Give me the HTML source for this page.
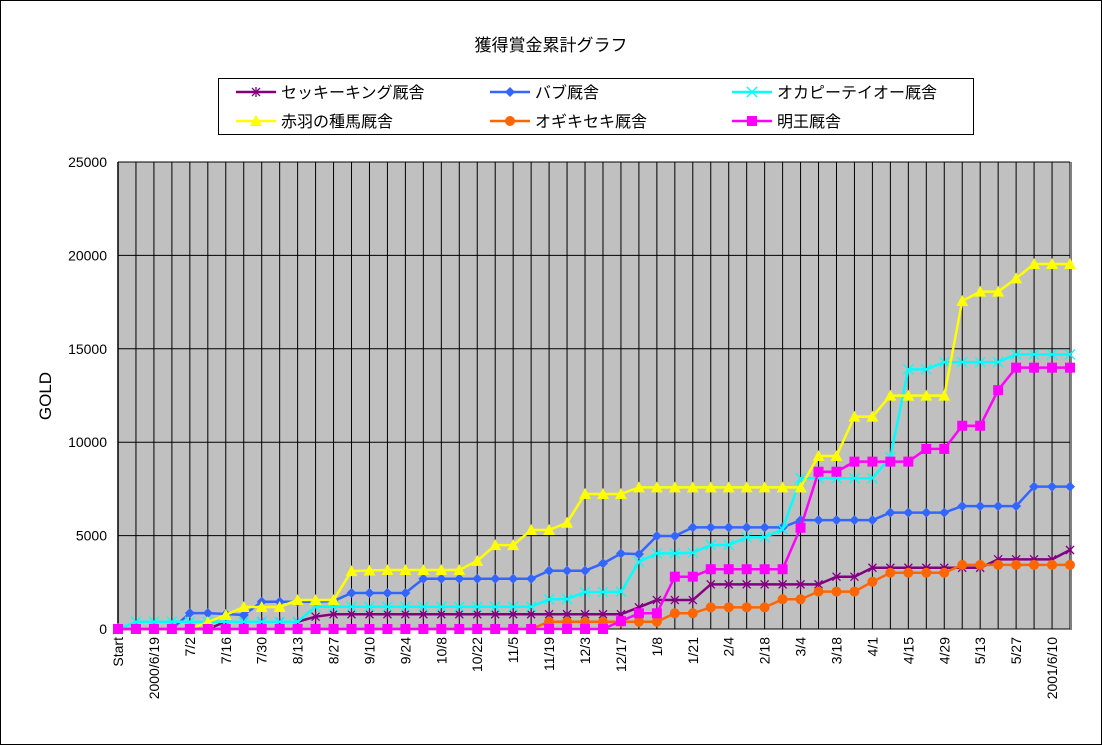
<!DOCTYPE html>
<html><head><meta charset="utf-8">
<style>
html,body{margin:0;padding:0;background:#fff;}
svg{display:block;font-family:"Liberation Sans","Noto Sans CJK JP",sans-serif;}
</style></head>
<body>
<svg id="chart" width="1102" height="745" viewBox="0 0 1102 745" xmlns="http://www.w3.org/2000/svg">
<rect x="0.5" y="0.5" width="1101" height="744" fill="#fff" stroke="#000" stroke-width="1"/>
<text x="551" y="51" font-size="17" text-anchor="middle">獲得賞金累計グラフ</text>
<text transform="translate(51,396) rotate(-90)" font-size="17" text-anchor="middle">GOLD</text>
<g id="legend"></g>
<g id="plot"></g>
</svg>
<script>
const categories = ["Start","6/12","2000/6/19","6/25","7/2","7/9","7/16","7/23","7/30","8/6","8/13","8/20","8/27","9/3","9/10","9/17","9/24","10/1","10/8","10/15","10/22","10/29","11/5","11/12","11/19","11/26","12/3","12/10","12/17","1/1","1/8","1/14","1/21","1/28","2/4","2/11","2/18","2/25","3/4","3/11","3/18","3/25","4/1","4/8","4/15","4/22","4/29","5/6","5/13","5/20","5/27","6/3","2001/6/10","6/17"];
const seriesNames = ["セッキーキング厩舎","バブ厩舎","オカピーテイオー厩舎","赤羽の種馬厩舎","オギキセキ厩舎","明王厩舎"];
const sekki = [0,0,0,0,0,0,390,390,390,390,390,660,790,790,790,790,790,790,790,790,790,790,790,790,790,790,790,790,790,1160,1550,1550,1550,2390,2390,2390,2390,2390,2390,2390,2800,2800,3280,3280,3280,3280,3280,3280,3280,3730,3730,3730,3730,4230];
const babu = [0,0,0,0,850,850,800,750,1460,1460,1460,1460,1500,1930,1930,1930,1930,2690,2690,2690,2690,2690,2690,2690,3120,3120,3120,3510,4040,4010,4980,4980,5440,5440,5440,5440,5440,5440,5830,5830,5830,5830,5830,6230,6230,6230,6230,6580,6580,6580,6580,7620,7620,7620];
const okapi = [0,390,390,390,390,390,390,390,390,390,390,1190,1190,1190,1190,1190,1190,1190,1190,1190,1190,1190,1190,1190,1590,1600,1980,1980,2000,3600,4050,4050,4080,4500,4500,4910,4910,5340,8070,8070,8070,8070,8070,9200,13900,13900,14290,14290,14290,14290,14700,14700,14700,14700];
const akabane = [0,0,0,0,0,370,750,1180,1180,1180,1550,1550,1550,3100,3130,3160,3160,3160,3160,3160,3650,4490,4490,5300,5300,5690,7230,7230,7230,7580,7580,7580,7580,7580,7580,7580,7580,7580,7580,9260,9260,11370,11370,12490,12490,12490,12490,17560,18060,18060,18770,19540,19540,19540];
const ogi = [0,0,0,0,0,0,0,0,0,0,0,0,0,0,0,0,0,0,0,0,0,0,0,0,390,390,390,390,390,390,390,840,840,1160,1160,1160,1160,1590,1590,2000,2000,2000,2530,3010,3010,3010,3010,3430,3430,3430,3430,3430,3430,3430];
const myoou = [0,0,0,0,0,0,0,0,0,0,0,0,0,0,0,0,0,0,0,0,0,0,0,0,0,0,0,0,420,840,840,2800,2800,3200,3200,3200,3200,3200,5420,8420,8420,8960,8960,8960,8960,9640,9640,10880,10880,12790,13990,13990,13990,13990];
const yTicks = [0,5000,10000,15000,20000,25000];

const NS="http://www.w3.org/2000/svg";
const L=118, R=1070, T=162, B=629, yMax=25000;
const n=categories.length;
const step=(R-L)/(n-1);
function xPos(i){return L+i*step;}
function yPos(v){return B-(v/yMax)*(B-T);}
function mk(tag,attrs,parent){const e=document.createElementNS(NS,tag);for(const k in attrs)e.setAttribute(k,attrs[k]);parent.appendChild(e);return e;}
const plot=document.getElementById('plot');
const bg=mk('rect',{x:L,y:T,width:R-L,height:B-T,fill:'#c0c0c0'},plot);


for(let i=0;i<n;i++){
  const g=mk('line',{x1:xPos(i),x2:xPos(i),y1:T,y2:B,stroke:'#000','stroke-width':1},plot);
  
  
}
yTicks.forEach(v=>{
  const g=mk('line',{x1:L,x2:R,y1:yPos(v),y2:yPos(v),stroke:'#000','stroke-width':1},plot);
  
  
  const t=mk('text',{x:107,y:yPos(v)+5,'font-size':14,'text-anchor':'end'},plot);
  t.textContent=v;
  
  
});
const shadow=mk('line',{x1:R+1,x2:R+1,y1:T,y2:B+1,stroke:'#808080','stroke-width':2},plot);


const axis=mk('line',{x1:L,x2:L,y1:T,y2:B,stroke:'#000','stroke-width':1.5},plot);


for(let i=0;i<n;i+=2){
  const x=xPos(i);
  const t=mk('text',{transform:`translate(${x+5},637) rotate(-90)`,'font-size':14,'text-anchor':'end'},plot);
  t.textContent=categories[i];
  
  
}
function marker(type,x,y,color,parent){
  let e;
  if(type==='star'){
    e=mk('path',{d:`M${x-4},${y-4}L${x+4},${y+4}M${x-4},${y+4}L${x+4},${y-4}M${x},${y-5}L${x},${y+5}`,stroke:color,'stroke-width':1.3,fill:'none'},parent);
  }else if(type==='diamond'){
    e=mk('path',{d:`M${x},${y-5}L${x+5},${y}L${x},${y+5}L${x-5},${y}Z`,fill:color},parent);
  }else if(type==='x'){
    e=mk('path',{d:`M${x-5},${y-5}L${x+5},${y+5}M${x-5},${y+5}L${x+5},${y-5}`,stroke:color,'stroke-width':1.3,fill:'none'},parent);
  }else if(type==='tri'){
    e=mk('path',{d:`M${x},${y-6}L${x+6},${y+5}L${x-6},${y+5}Z`,fill:color},parent);
  }else if(type==='circle'){
    e=mk('circle',{cx:x,cy:y,r:5,fill:color},parent);
  }else{
    e=mk('rect',{x:x-5,y:y-5,width:10,height:10,fill:color},parent);
  }
  return e;
}
const seriesData=[sekki,babu,okapi,akabane,ogi,myoou];
const colors=['#800080','#3366ff','#00ffff','#ffff00','#ff6600','#ff00ff'];
const markers=['star','diamond','x','tri','circle','square'];
const keys=['sekki-king','babu','okapi-teio','akabane','ogi-kiseki','myoou'];
seriesData.forEach((vals,s)=>{
  const g=mk('g',{},plot);
  
  
  const pts=vals.map((v,i)=>xPos(i)+','+yPos(v)).join(' ');
  const pl=mk('polyline',{points:pts,fill:'none',stroke:colors[s],'stroke-width':2.5},g);
  
  
  vals.forEach((v,i)=>{
    const m=marker(markers[s],xPos(i),yPos(v),colors[s],g);
    
    
  });
});
const leg=document.getElementById('legend');
const box=mk('rect',{x:218.5,y:78.5,width:755,height:56,fill:'#fff',stroke:'#000','stroke-width':1},leg);


const colX=[236,490,732];
seriesNames.forEach((name,s)=>{
  const col=s%3, row=Math.floor(s/3);
  const x=colX[col], y=92+row*29;
  const g=mk('g',{},leg);
  
  
  mk('line',{x1:x,x2:x+40,y1:y,y2:y,stroke:colors[s],'stroke-width':2.5},g);
  marker(markers[s],x+20,y,colors[s],g);
  const t=mk('text',{x:x+45,y:y+6,'font-size':16},g);
  t.textContent=name;
});
</script>
</body></html>
